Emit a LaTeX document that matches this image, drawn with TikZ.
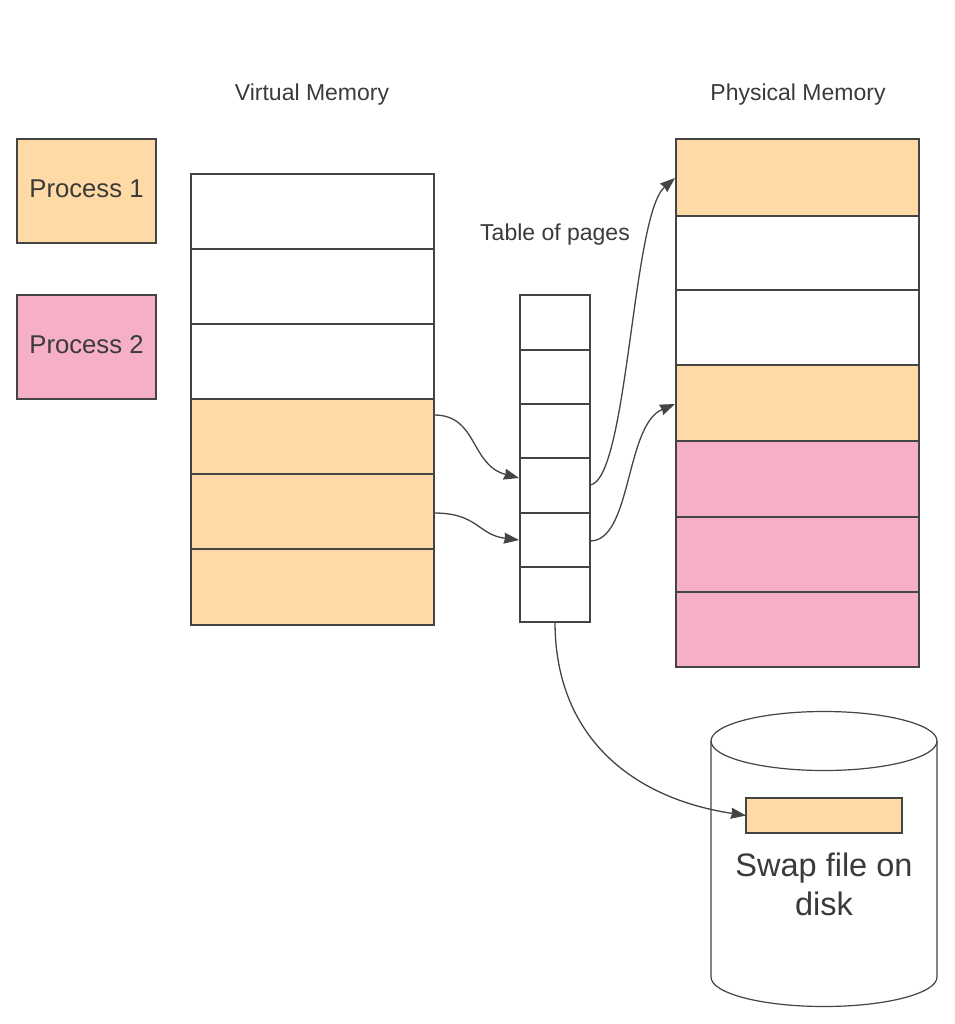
\documentclass[tikz,border=0pt]{standalone}
\usepackage{fontspec}
\setmainfont{Liberation Sans}
\usetikzlibrary{arrows.meta}
\definecolor{orangefill}{HTML}{FFD9A6}
\definecolor{pinkfill}{HTML}{F5B0C6}
\definecolor{ink}{HTML}{444444}
\definecolor{txt}{HTML}{3A3A3A}
\tikzset{
  x=1pt,y=-1pt,
  cell/.style={draw=ink,line width=1.2pt,anchor=north west,inner sep=0pt,outer sep=0pt,text=txt},
  lab/.style={text=txt,font=\fontsize{23}{27}\selectfont},
  conn/.style={draw=ink,line width=1.3pt,-{Stealth[length=15pt,width=11pt,inset=1pt]}},
  procbox/.style={cell,minimum width=139pt,minimum height=104pt,font=\fontsize{25.7}{30}\selectfont},
}
\newcommand{\cellat}[6]{\node[cell,fill=#6,minimum width=#4pt,minimum height=#5pt] (#1) at (#2,#3) {};}
\begin{document}
\begin{tikzpicture}
\useasboundingbox (0,0) rectangle (954,1024);
\node[lab] (vmt) at (312,95) {Virtual Memory};
\node[lab] (pmt) at (798,95) {Physical Memory};
\node[lab] (tpt) at (555,235) {Table of pages};
\node[procbox,fill=orangefill] (p1) at (17,139) {\raisebox{4pt}{Process 1}};
\node[procbox,fill=pinkfill] (p2) at (17,295) {\raisebox{4pt}{Process 2}};
\cellat{v1}{191}{174}{243}{75}{white}
\cellat{v2}{191}{249}{243}{75}{white}
\cellat{v3}{191}{324}{243}{75}{white}
\cellat{v4}{191}{399}{243}{75}{orangefill}
\cellat{v5}{191}{474}{243}{75}{orangefill}
\cellat{v6}{191}{549}{243}{76}{orangefill}
\cellat{t1}{520}{295}{70}{55}{white}
\cellat{t2}{520}{350}{70}{54}{white}
\cellat{t3}{520}{404}{70}{54}{white}
\cellat{t4}{520}{458}{70}{55}{white}
\cellat{t5}{520}{513}{70}{54}{white}
\cellat{t6}{520}{567}{70}{55}{white}
\cellat{m1}{676}{139}{243}{77}{orangefill}
\cellat{m2}{676}{216}{243}{74}{white}
\cellat{m3}{676}{290}{243}{75}{white}
\cellat{m4}{676}{365}{243}{76}{orangefill}
\cellat{m5}{676}{441}{243}{76}{pinkfill}
\cellat{m6}{676}{517}{243}{75}{pinkfill}
\cellat{m7}{676}{592}{243}{75}{pinkfill}
% disk
\path[draw=ink,line width=1.2pt,fill=white] (711,741) arc[x radius=113,y radius=-29.5,start angle=180,end angle=0] -- (937,977) arc[x radius=113,y radius=29.5,start angle=0,end angle=180] -- cycle;
\draw[ink,line width=1.2pt] (711,741) arc[x radius=113,y radius=29.5,start angle=180,end angle=0];
\cellat{sw}{746}{798}{156}{35}{orangefill}
\node[text=txt,font=\fontsize{32.5}{39}\selectfont,align=center] (swt) at (824,884) {Swap file on\\disk};
\coordinate (a1) at (434,415);
\coordinate (a2) at (434,513);
\coordinate (a3) at (590,485);
\coordinate (a4) at (590,541);
\coordinate (tb) at (555,622);
\coordinate (e1) at (519,478);
\coordinate (e2) at (519,540);
\coordinate (e3) at (675,178);
\coordinate (e4) at (675,404);
\draw[conn] (a1) .. controls (478,415) and (470,465) .. (e1);
\draw[conn] (a2) .. controls (478,513) and (478,535) .. (e2);
\draw[conn] (a3) .. controls (628,480) and (632,215) .. (e3);
\draw[conn] (a4) .. controls (632,541) and (625,425) .. (e4);
\draw[conn] (tb) .. controls (555,735) and (630,798) .. (sw.west);
\end{tikzpicture}
\end{document}
